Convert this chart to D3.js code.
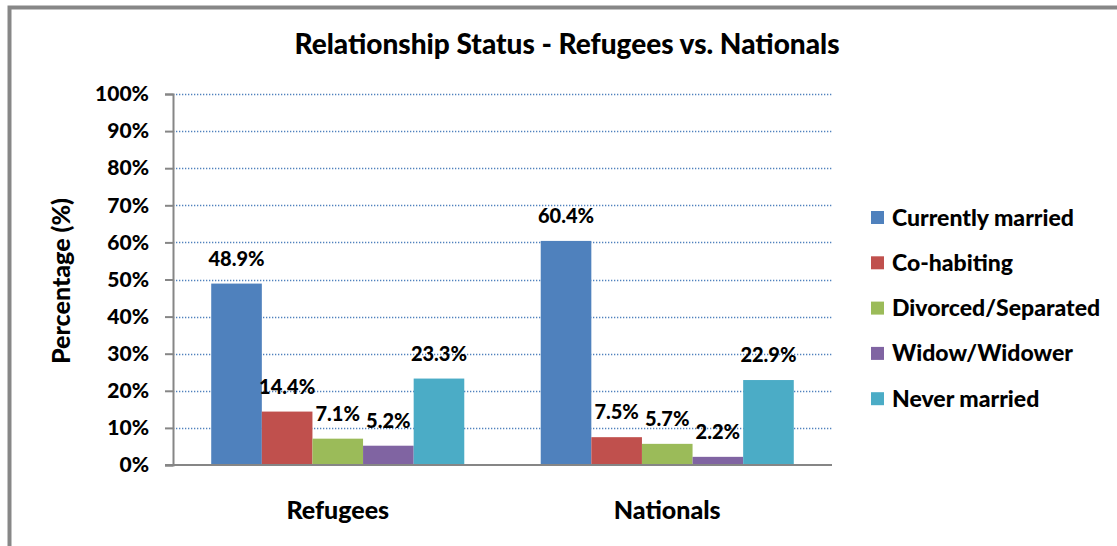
<!DOCTYPE html>
<html>
<head>
<meta charset="utf-8">
<script src="https://cdn.jsdelivr.net/npm/d3@7"></script>
<style>
  html, body { margin: 0; padding: 0; background: #fff; }
  svg { display: block; }
  text { font-family: Lato, "Open Sans", sans-serif; font-weight: 900; fill: #000; }
</style>
</head>
<body>
<svg id="chart" width="1117" height="546"></svg>
<script>
// Relationship status shares (fractions) by population group
const groups = ["Refugees", "Nationals"];
const statuses = ["Currently married", "Co-habiting", "Divorced/Separated", "Widow/Widower", "Never married"];
const refugeesValues = [0.489, 0.144, 0.071, 0.052, 0.233];
const nationalsValues = [0.604, 0.075, 0.057, 0.022, 0.229];
const statusColors = ["#4f81bd", "#c0504d", "#9bbb59", "#8064a2", "#4bacc6"];
const yTicks = [0, 0.1, 0.2, 0.3, 0.4, 0.5, 0.6, 0.7, 0.8, 0.9, 1.0];
const titleText = "Relationship Status - Refugees vs. Nationals";
const yAxisTitle = "Percentage (%)";

const seriesByGroup = [refugeesValues, nationalsValues];

const svg = d3.select("#chart");
const W = 1117, H = 546;

// outer frame (left and top edges visible)
svg.append("rect").attr("x", 0).attr("y", 0).attr("width", W).attr("height", H).attr("fill", "#fff");
svg.append("path")
  .attr("d", `M9.5,${H} L9.5,7.5 L${W},7.5`)
  .attr("fill", "none").attr("stroke", "#878787").attr("stroke-width", 4);

const plot = { left: 173, right: 832, top: 94, bottom: 465 };

const y = d3.scaleLinear().domain([0, 1]).range([plot.bottom, plot.top]);
const x0 = d3.scaleBand().domain(groups).range([plot.left, plot.right])
  .paddingInner(0.232).paddingOuter(0.116);
const x1 = d3.scaleBand().domain(statuses).range([0, x0.bandwidth()]).padding(0);

// gridlines
svg.append("g")
  .selectAll("line")
  .data(yTicks.filter(d => d > 0))
  .join("line")
  .attr("x1", plot.left).attr("x2", plot.right)
  .attr("y1", d => Math.round(y(d)) + 0.5).attr("y2", d => Math.round(y(d)) + 0.5)
  .attr("stroke", "#4f81bd").attr("stroke-width", 1.3)
  .attr("stroke-dasharray", "1.3,1.7");

// bars
const barGroups = svg.append("g").selectAll("g")
  .data(groups.map((g, i) => ({ group: g, values: seriesByGroup[i] })))
  .join("g")
  .attr("transform", d => `translate(${x0(d.group)},0)`);

barGroups.selectAll("rect")
  .data(d => d.values.map((v, j) => ({ status: statuses[j], value: v, color: statusColors[j] })))
  .join("rect")
  .attr("x", d => x1(d.status))
  .attr("width", x1.bandwidth())
  .attr("y", d => y(d.value))
  .attr("height", d => y(0) - y(d.value))
  .attr("fill", d => d.color);

// value labels
barGroups.selectAll("text")
  .data(d => d.values.map((v, j) => ({ status: statuses[j], value: v })))
  .join("text")
  .attr("x", d => x1(d.status) + x1.bandwidth() / 2)
  .attr("y", d => y(d.value) - 18)
  .attr("text-anchor", "middle")
  .style("font-size", "20px")
  .text(d => (d.value * 100).toFixed(1) + "%");

// y axis
const yAxis = svg.append("g")
  .attr("transform", `translate(${plot.left},0)`)
  .call(d3.axisLeft(y).tickValues(yTicks).tickFormat(d3.format(".0%")).tickSize(8).tickPadding(16));
yAxis.select(".domain").attr("stroke", "#868686").attr("stroke-width", 2);
yAxis.selectAll(".tick line").attr("stroke", "#868686").attr("stroke-width", 2);
yAxis.selectAll(".tick text")
  .style("font-family", "Lato, sans-serif").style("font-weight", "900")
  .style("font-size", "21px").attr("fill", "#000");

// x axis baseline
svg.append("line")
  .attr("x1", plot.left - 8).attr("x2", plot.right)
  .attr("y1", plot.bottom).attr("y2", plot.bottom)
  .attr("stroke", "#868686").attr("stroke-width", 2);

// category labels
svg.append("g").selectAll("text")
  .data(groups)
  .join("text")
  .attr("x", d => x0(d) + x0.bandwidth() / 2)
  .attr("y", 519)
  .attr("text-anchor", "middle")
  .style("font-size", "25px")
  .text(d => d);

// title
svg.append("text")
  .attr("x", 567).attr("y", 54)
  .attr("text-anchor", "middle")
  .style("font-size", "28px")
  .text(titleText);

// y axis title
svg.append("text")
  .attr("transform", "translate(70,281) rotate(-90)")
  .attr("text-anchor", "middle")
  .style("font-size", "25px")
  .text(yAxisTitle);

// legend
const legend = svg.append("g").selectAll("g")
  .data(statuses)
  .join("g")
  .attr("transform", (d, i) => `translate(871,${217.5 + i * 45.3})`);
legend.append("rect")
  .attr("x", 0).attr("y", -6.5).attr("width", 13).attr("height", 13)
  .attr("fill", (d, i) => statusColors[i]);
legend.append("text")
  .attr("x", 21).attr("y", 0).attr("dy", "0.35em")
  .style("font-size", "23px")
  .text(d => d);
</script>
</body>
</html>
